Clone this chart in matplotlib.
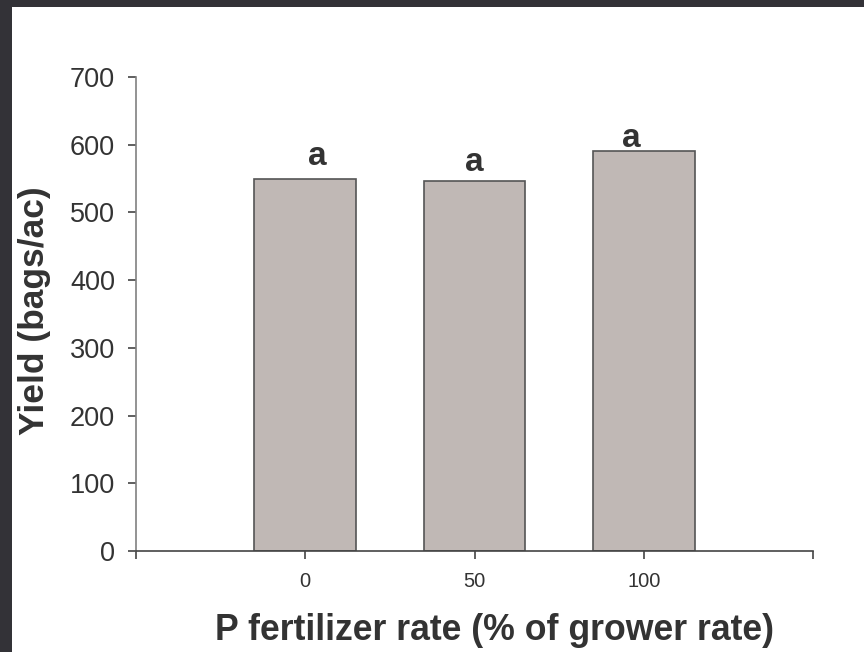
import matplotlib
matplotlib.use("Agg")
import matplotlib.pyplot as plt
from matplotlib.patches import Rectangle

# Data
rates = ["0", "50", "100"]
yield_bags = [550, 547, 591]
letters = ["a", "a", "a"]

# Letter placement (offsets in points from the bar top / centre)
letter_dx = [8.6, 0, -8.6]
letter_dy = [10, 7, 3]

TEXT = "#333333"
plt.rcParams["font.family"] = ["Liberation Sans", "DejaVu Sans"]

fig = plt.figure(figsize=(8.64, 6.52), dpi=100)
fig.patch.set_facecolor("white")

# dark frame strips along the top and left edges
fig.patches.append(Rectangle((0, 1 - 7 / 652), 1, 7 / 652, transform=fig.transFigure,
                             facecolor="#333237", edgecolor="none", zorder=10))
fig.patches.append(Rectangle((0, 0), 12 / 864, 1, transform=fig.transFigure,
                             facecolor="#333237", edgecolor="none", zorder=10))

ax = fig.add_axes([136 / 864, 1 - 551 / 652, (813 - 136) / 864, (551 - 77) / 652])

xpos = list(range(len(rates)))
ax.bar(xpos, yield_bags, width=0.6, color="#C0B8B5", edgecolor="#555555",
       linewidth=1.2, zorder=2)

for x, v, t, dx, dy in zip(xpos, yield_bags, letters, letter_dx, letter_dy):
    ax.annotate(t, xy=(x, v), xytext=(dx, dy), textcoords="offset points",
                ha="center", va="baseline", fontsize=24, fontweight="bold",
                color=TEXT)

ax.set_xlim(-1, len(rates))
ax.set_ylim(0, 700)
ax.set_yticks(range(0, 701, 100))
ax.set_xticks(range(-1, len(rates) + 1))
ax.set_xticklabels([""] + rates + [""])

for side in ("top", "right"):
    ax.spines[side].set_visible(False)
ax.spines["left"].set_color("#808080")
ax.spines["left"].set_linewidth(1.2)
ax.spines["bottom"].set_color("#444444")
ax.spines["bottom"].set_linewidth(1.2)

ax.tick_params(axis="y", direction="out", length=6, width=1.2, color="#444444",
               labelsize=19.5, labelcolor=TEXT, pad=9)
ax.tick_params(axis="x", direction="out", length=6, width=1.2, color="#444444",
               labelsize=14.5, labelcolor=TEXT, pad=9)

fig.text(35 / 864, 1 - 311 / 652, "Yield (bags/ac)", rotation=90, ha="center",
         va="center", fontsize=25.5, fontweight="bold", color=TEXT)
fig.text(494 / 864, 1 - 631 / 652, "P fertilizer rate (% of grower rate)",
         ha="center", va="center", fontsize=25.7, fontweight="bold", color=TEXT)

fig.savefig("out.png", dpi=100)
